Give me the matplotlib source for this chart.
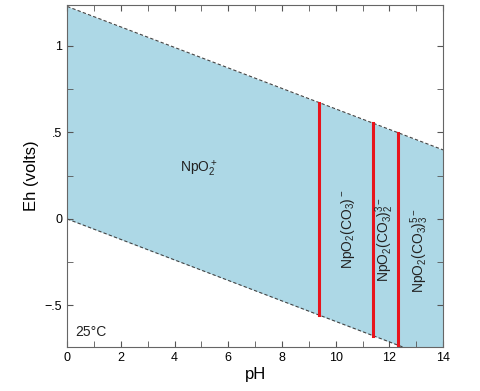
import matplotlib
matplotlib.use("Agg")
import matplotlib.pyplot as plt
import numpy as np
from matplotlib.ticker import MultipleLocator, FuncFormatter

# water stability limits (Eh = a + b*pH)
upper_a, upper_b = 1.228, -0.0592
lower_a, lower_b = 0.0, -0.0592

# species boundaries (pH)
boundary_ph = [9.39, 11.40, 12.33]

# labels
species = [r"NpO$_2^+$", r"NpO$_2$(CO$_3$)$^-$", r"NpO$_2$(CO$_3$)$_2^{3-}$", r"NpO$_2$(CO$_3$)$_3^{5-}$"]
label_ph = [4.9, 10.45, 11.83, 13.13]
label_eh = [0.29, -0.06, -0.12, -0.18]
label_rot = [0, 90, 90, 90]

plt.rcParams['font.family'] = ['Liberation Sans', 'DejaVu Sans']
plt.rcParams['mathtext.fontset'] = 'custom'
plt.rcParams['mathtext.rm'] = 'Liberation Sans'
plt.rcParams['mathtext.it'] = 'Liberation Sans'

fig = plt.figure(figsize=(4.8, 3.91), dpi=100)
ax = fig.add_axes([0.14, 0.1125, 0.783, 0.875])

ph = np.linspace(0, 14, 200)
up = upper_a + upper_b * ph
lo = lower_a + lower_b * ph
ax.fill_between(ph, lo, up, color='#add8e6', lw=0)
ax.plot(ph, up, ls='--', color='#444444', lw=0.8, dashes=(3, 2))
ax.plot(ph, lo, ls='--', color='#444444', lw=0.8, dashes=(3, 2))

for p in boundary_ph:
    ax.plot([p, p], [lower_a + lower_b * p, upper_a + upper_b * p], color='#e8141c', lw=2.2)

for s, x, y, r in zip(species, label_ph, label_eh, label_rot):
    ax.text(x, y, s, rotation=r, ha='center', va='center', fontsize=10, color='#222222')

ax.text(0.3, -0.675, "25°C", fontsize=10, color='#222222')

ax.set_xlim(0, 14)
ax.set_ylim(-0.74, 1.237)
ax.xaxis.set_major_locator(MultipleLocator(2))
ax.xaxis.set_minor_locator(MultipleLocator(1))
ax.yaxis.set_major_locator(MultipleLocator(0.5))
ax.yaxis.set_minor_locator(MultipleLocator(0.25))

def fmt(v, pos):
    if abs(v) < 1e-9:
        return "0"
    if abs(v - round(v)) < 1e-9:
        return "%d" % round(v)
    s = ("%g" % v).replace("0.", ".")
    return s.replace("-", "\u2212")

ax.yaxis.set_major_formatter(FuncFormatter(fmt))
ax.tick_params(which='both', direction='in', top=True, right=True, labelsize=9, color='#555555')
ax.tick_params(which='major', length=4)
ax.tick_params(which='minor', length=4)
for sp in ax.spines.values():
    sp.set_color('#666666')

ax.set_xlabel("pH", fontsize=12, labelpad=2)
ax.set_ylabel("Eh (volts)", fontsize=12, labelpad=4)

fig.savefig("out.png", dpi=100)
